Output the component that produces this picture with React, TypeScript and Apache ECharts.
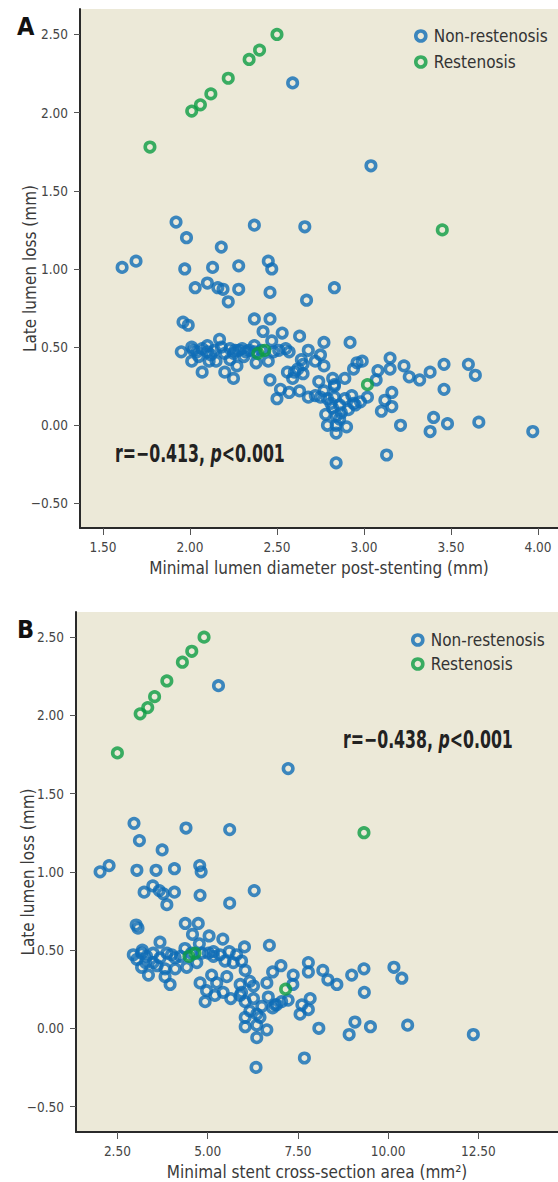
import React, { useEffect, useRef } from "react";
import * as echarts from "echarts";

// ---- Panel A: Minimal lumen diameter post-stenting (mm) vs late lumen loss (mm)
const blueA: [number, number][] = [
  [2.59, 2.19], [3.04, 1.66],
  [1.92, 1.30], [1.98, 1.20], [2.18, 1.14], [2.37, 1.28], [2.66, 1.27],
  [1.61, 1.01], [1.69, 1.05], [1.97, 1.00], [2.13, 1.01], [2.28, 1.02], [2.45, 1.05], [2.47, 1.00],
  [2.03, 0.88], [2.10, 0.91], [2.16, 0.88], [2.19, 0.87], [2.28, 0.87], [2.22, 0.79], [2.46, 0.85],
  [2.67, 0.80], [2.83, 0.88], [1.96, 0.66], [1.99, 0.64], [2.37, 0.68], [2.46, 0.68], [2.42, 0.60],
  [2.53, 0.59], [2.63, 0.57], [2.17, 0.55], [2.47, 0.54], [2.77, 0.53], [2.92, 0.53],
  [1.95, 0.47], [2.01, 0.50], [2.02, 0.48], [2.04, 0.47], [2.01, 0.41], [2.07, 0.49], [2.10, 0.51],
  [2.10, 0.47], [2.12, 0.45], [2.14, 0.48], [2.11, 0.41], [2.15, 0.41], [2.07, 0.34], [2.18, 0.50],
  [2.23, 0.49], [2.25, 0.46], [2.28, 0.48], [2.30, 0.49], [2.32, 0.47], [2.34, 0.48], [2.23, 0.42],
  [2.27, 0.38], [2.20, 0.34], [2.25, 0.30], [2.37, 0.47], [2.38, 0.40], [2.37, 0.51], [2.45, 0.41],
  [2.48, 0.47], [2.51, 0.48], [2.55, 0.49], [2.57, 0.47], [2.46, 0.29], [2.52, 0.23], [2.57, 0.21],
  [2.50, 0.17], [2.56, 0.34], [2.60, 0.34], [2.62, 0.36], [2.65, 0.33], [2.59, 0.30], [2.63, 0.22],
  [2.68, 0.18], [2.64, 0.42], [2.68, 0.48], [2.65, 0.39], [2.72, 0.41], [2.75, 0.45], [2.77, 0.38],
  [2.74, 0.28], [2.77, 0.22], [2.75, 0.18], [2.72, 0.19], [2.82, 0.30], [2.83, 0.25], [2.89, 0.30],
  [2.94, 0.36], [2.96, 0.40], [2.79, 0.17], [2.81, 0.14], [2.86, 0.13], [2.89, 0.17], [2.93, 0.19],
  [2.94, 0.14], [2.78, 0.07], [2.82, 0.11], [2.84, 0.06], [2.87, 0.08], [2.79, 0.00], [2.84, -0.05],
  [2.90, -0.01], [2.84, 0.00], [2.86, 0.04], [2.84, -0.24], [3.13, -0.19], [2.99, 0.41], [3.08, 0.35],
  [3.15, 0.43], [3.15, 0.36], [3.23, 0.38], [3.26, 0.31], [3.32, 0.29], [3.38, 0.34], [3.46, 0.39],
  [3.60, 0.39], [3.64, 0.32], [3.46, 0.23], [3.07, 0.29], [3.02, 0.18], [3.16, 0.21], [3.12, 0.16],
  [3.16, 0.12], [3.10, 0.09], [3.21, 0.00], [3.38, -0.04], [3.40, 0.05], [3.48, 0.01], [3.66, 0.02],
  [3.97, -0.04], [2.83, 0.26], [2.95, 0.13], [2.98, 0.15], [2.91, 0.10], [2.83, 0.18],
  [2.05, 0.44], [2.20, 0.46], [2.26, 0.48], [2.31, 0.44], [2.41, 0.48],
];
const greenA: [number, number][] = [
  [1.77, 1.78], [2.01, 2.01], [2.06, 2.05], [2.12, 2.12], [2.22, 2.22], [2.34, 2.34], [2.40, 2.40],
  [2.50, 2.50], [2.39, 0.46], [2.43, 0.48], [3.02, 0.26], [3.45, 1.25],
];

// ---- Panel B: Minimal stent cross-section area (mm2) vs late lumen loss (mm)
const blueB: [number, number][] = [
  [5.30, 2.19], [7.23, 1.66],
  [2.96, 1.31], [3.11, 1.20], [3.74, 1.14], [4.40, 1.28], [5.61, 1.27],
  [2.02, 1.00], [2.27, 1.04], [3.04, 1.01], [3.57, 1.01], [4.08, 1.02], [4.78, 1.04], [4.82, 1.00],
  [3.24, 0.87], [3.48, 0.91], [3.66, 0.88], [3.77, 0.86], [4.08, 0.87], [4.79, 0.85], [3.87, 0.79],
  [5.61, 0.80], [6.29, 0.88], [3.02, 0.66], [3.07, 0.64], [4.38, 0.67], [4.74, 0.67], [4.58, 0.60],
  [5.04, 0.59], [5.42, 0.57], [6.02, 0.52], [6.71, 0.53], [3.68, 0.55], [4.77, 0.54], [4.37, 0.51],
  [2.94, 0.47], [3.17, 0.48], [3.31, 0.46], [3.49, 0.48], [3.68, 0.45], [3.87, 0.48], [4.00, 0.47],
  [4.10, 0.45], [3.17, 0.39], [3.36, 0.34], [3.49, 0.42], [3.82, 0.38], [3.82, 0.33], [3.96, 0.28],
  [4.10, 0.38], [4.42, 0.39], [4.70, 0.42], [4.84, 0.48], [5.02, 0.48], [5.16, 0.49], [5.16, 0.46],
  [5.48, 0.43], [5.53, 0.33], [5.60, 0.49], [5.71, 0.42], [5.94, 0.43], [6.04, 0.37], [5.11, 0.34],
  [5.25, 0.29], [4.79, 0.29], [4.97, 0.24], [4.93, 0.17], [5.20, 0.21], [5.43, 0.23], [5.64, 0.19],
  [5.90, 0.28], [6.17, 0.30], [6.27, 0.27], [6.64, 0.29], [6.80, 0.36], [7.03, 0.40], [7.37, 0.34],
  [7.36, 0.28], [5.90, 0.21], [6.04, 0.17], [6.27, 0.19], [6.50, 0.14], [6.68, 0.20], [6.87, 0.15],
  [7.05, 0.17], [7.23, 0.18], [6.04, 0.07], [6.17, 0.11], [6.36, 0.09], [6.45, 0.07], [6.04, 0.01],
  [6.36, 0.02], [6.64, -0.01], [6.36, -0.06], [7.61, 0.15], [7.56, 0.09], [7.79, 0.12], [7.84, 0.19],
  [7.79, 0.42], [7.79, 0.36], [8.19, 0.37], [8.33, 0.31], [8.58, 0.28], [8.99, 0.34], [9.33, 0.38],
  [9.34, 0.23], [10.16, 0.39], [10.38, 0.32], [8.08, 0.00], [9.08, 0.04], [8.92, -0.04], [9.51, 0.01],
  [10.54, 0.02], [12.36, -0.04], [7.68, -0.19], [6.34, -0.25], [3.04, 0.44], [3.19, 0.50],
  [5.94, 0.23], [6.80, 0.13], [6.91, 0.15], [3.28, 0.42], [3.60, 0.40], [4.25, 0.46], [4.55, 0.48],
  [5.34, 0.47], [5.80, 0.47],
];
const greenB: [number, number][] = [
  [2.50, 1.76], [3.13, 2.01], [3.34, 2.05], [3.53, 2.12], [3.87, 2.22], [4.30, 2.34], [4.56, 2.41],
  [4.90, 2.50], [4.48, 0.46], [4.65, 0.48], [7.16, 0.25], [9.33, 1.25],
];

const xTicksA = [1.5, 2.0, 2.5, 3.0, 3.5, 4.0];
const xTicksB = [2.5, 5.0, 7.5, 10.0, 12.5];
const yTicks = [-0.5, 0.0, 0.5, 1.0, 1.5, 2.0, 2.5];
const seriesNames = ["Non-restenosis", "Restenosis"];

const FONT = "'DejaVu Sans Condensed', 'Liberation Sans', sans-serif";
const BLUE = "#0f6db6";
const GREEN = "#0c9c44";
const BG = "#ece9d8";

const fmt = (v: number) => (v < 0 ? "\u2212" + Math.abs(v).toFixed(2) : v.toFixed(2));

function xAxisCfg(grid: number, min: number, max: number, ticks: number[], name: string) {
  return {
    type: "value",
    gridIndex: grid,
    min,
    max,
    name,
    nameLocation: "middle",
    nameGap: 31,
    nameMoveOverlap: false,
    nameTextStyle: { fontFamily: FONT, fontSize: 17, color: "#3a3a3a", verticalAlign: "top" },
    axisLine: { show: true, onZero: false, lineStyle: { color: "#2a2a2a", width: 2 } },
    axisTick: { show: true, length: 7, customValues: ticks, lineStyle: { color: "#555", width: 1 } },
    axisLabel: {
      customValues: ticks,
      formatter: fmt,
      margin: 12,
      fontFamily: FONT,
      fontSize: 13.5,
      color: "#444",
    },
    splitLine: { show: false },
  };
}

function yAxisCfg(grid: number, min: number, max: number, gap: number) {
  return {
    type: "value",
    gridIndex: grid,
    min,
    max,
    name: "Late lumen loss (mm)",
    nameLocation: "middle",
    nameGap: gap,
    nameMoveOverlap: false,
    nameTextStyle: { fontFamily: FONT, fontSize: 17, color: "#3a3a3a" },
    axisLine: { show: true, onZero: false, lineStyle: { color: "#2a2a2a", width: 2 } },
    axisTick: { show: true, length: 6, customValues: yTicks, lineStyle: { color: "#555", width: 1 } },
    axisLabel: {
      customValues: yTicks,
      formatter: fmt,
      margin: 12,
      fontFamily: FONT,
      fontSize: 13.5,
      color: "#444",
    },
    splitLine: { show: false },
  };
}

function scatter(name: string, data: [number, number][], color: string, idx: number, z: number) {
  return {
    type: "scatter",
    name,
    data,
    xAxisIndex: idx,
    yAxisIndex: idx,
    symbol: "circle",
    symbolSize: 9.5,
    z,
    itemStyle: { color: "transparent", borderColor: color, borderWidth: 3.6 },
    emphasis: { disabled: true },
  };
}

function legendCfg(left: number, top: number, gap: number) {
  return {
    orient: "vertical",
    left,
    top,
    padding: 0,
    itemGap: gap,
    itemWidth: 10,
    itemHeight: 10,
    icon: "circle",
    selectedMode: false,
    textStyle: { fontFamily: FONT, fontSize: 17, color: "#333", lineHeight: 20, padding: [0, 0, 0, 3] },
    data: [
      { name: seriesNames[0], itemStyle: { color: "transparent", borderColor: BLUE, borderWidth: 3.6 } },
      { name: seriesNames[1], itemStyle: { color: "transparent", borderColor: GREEN, borderWidth: 3.6 } },
    ],
  };
}

function statText(x: number, y: number, r: string) {
  return {
    type: "text",
    x,
    y,
    scaleX: 0.73,
    scaleY: 1,
    style: {
      text: `{b|r=\u2212${r}, }{i|p}{b|<0.001}`,
      verticalAlign: "middle",
      rich: {
        b: { fontFamily: FONT, fontSize: 24, fontWeight: "bold", fill: "#222" },
        i: { fontFamily: FONT, fontSize: 24, fontWeight: "bold", fontStyle: "italic", fill: "#222" },
      },
    },
  };
}

export default function App() {
  const ref = useRef<HTMLDivElement>(null);
  useEffect(() => {
    document.body.style.margin = "0";
    if (!ref.current) return;
    const chart = echarts.init(ref.current, null, { renderer: "svg" });
    chart.setOption({
      animation: false,
      backgroundColor: "#ffffff",
      grid: [
        { left: 80, top: 9, width: 478, height: 519, show: true, backgroundColor: BG, borderWidth: 0 },
        { left: 76, top: 612, width: 482, height: 520, show: true, backgroundColor: BG, borderWidth: 0 },
      ],
      xAxis: [
        xAxisCfg(0, 1.368, 4.115, xTicksA, "Minimal lumen diameter post-stenting (mm)"),
        xAxisCfg(1, 1.353, 14.705, xTicksB, "Minimal stent cross-section area (mm\u00b2)"),
      ],
      yAxis: [yAxisCfg(0, -0.657, 2.663, 42), yAxisCfg(1, -0.663, 2.661, 40)],
      legend: [legendCfg(414, 26, 6), legendCfg(411, 630, 4)],
      series: [
        scatter(seriesNames[0], blueA, BLUE, 0, 2),
        scatter(seriesNames[1], greenA, GREEN, 0, 3),
        scatter(seriesNames[0], blueB, BLUE, 1, 2),
        scatter(seriesNames[1], greenB, GREEN, 1, 3),
      ],
      graphic: [
        { type: "text", left: 17, top: 14, style: { text: "A", fontFamily: FONT, fontSize: 25, fontWeight: "bold", fill: "#111" } },
        { type: "text", left: 17, top: 617, style: { text: "B", fontFamily: FONT, fontSize: 25, fontWeight: "bold", fill: "#111" } },
        statText(115, 453, "0.413"),
        statText(343, 739, "0.438"),
      ],
    });
    return () => chart.dispose();
  }, []);
  return <div ref={ref} style={{ width: 558, height: 1182 }} />;
}
